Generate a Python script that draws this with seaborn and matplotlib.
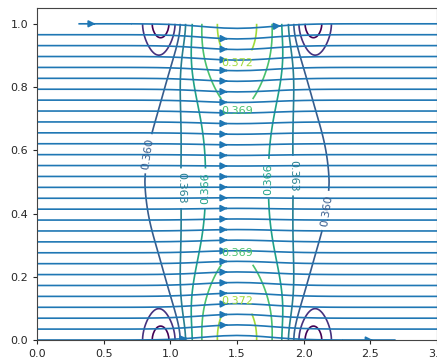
import numpy as np
import matplotlib
matplotlib.use("Agg")
import matplotlib.pyplot as plt
import seaborn as sns

# axes
x_range = [0.0, 3.0]
y_range = [0.0, 1.0]
y_top = 1.05
x_ticks = [0.0, 0.5, 1.0, 1.5, 2.0, 2.5, 3.0]
y_ticks = [0.0, 0.2, 0.4, 0.6, 0.8, 1.0]

# contour levels and the colour span they were coloured over
levels = [0.354, 0.357, 0.360, 0.363, 0.366, 0.369, 0.372]
level_span = [0.354, 0.375]

# scalar field, pieced together from what the picture shows
base_value = 0.3589
core = [1.5, 0.0087, 0.51, 0.08]     # centre x, amplitude, width, narrowing at walls
wall_bump = [0.0059, 0.48, 0.23]     # amplitude, x width, y width
dip_x = [0.95, 2.05]
dip = [0.0095, 0.15, 0.1]            # depth, x width, y reach
throat = [0.03, 0.35]                # speed-up of the flow at the centre

# where the inline labels sit
label_x = [0.82, 2.16, 1.09, 1.94, 1.26, 1.73, 1.5, 1.5, 1.5, 1.5]
label_y = [0.59, 0.41, 0.48, 0.52, 0.48, 0.51, 0.28, 0.72, 0.12, 0.88]

x = np.linspace(x_range[0], x_range[1], 301)
y = np.linspace(y_range[0], y_range[1], 101)
X, Y = np.meshgrid(x, y)

cx, amp, width, narrow = core
S = width - narrow * np.abs(2 * Y - 1) ** 1.5
P = base_value + amp * np.exp(-((X - cx) / S) ** 2)
b_amp, b_wx, b_wy = wall_bump
for wall in (0.0, 1.0):
    P += b_amp * np.exp(-((X - cx) / b_wx) ** 2 - ((Y - wall) / b_wy) ** 2)
d_amp, d_wx, d_wy = dip
for dx in dip_x:
    for wall in (0.0, 1.0):
        P -= (d_amp * np.exp(-((X - dx) / d_wx) ** 2)
              / (1 + ((Y - wall) / d_wy) ** 2))

g = np.exp(-((X - cx) / throat[1]) ** 2)
dg = -2 * (X - cx) / throat[1] ** 2 * g
U = 1 + throat[0] * g
V = -(Y - 0.5) * throat[0] * dg

sns.set_style("ticks")
plt.rcParams["font.family"] = ["DejaVu Sans"]

fig = plt.figure(figsize=(4.37, 3.61), dpi=100)
ax = fig.add_axes([37 / 437, 21 / 361, 400 / 437, 332 / 361])

cmap = sns.color_palette("viridis", as_cmap=True)
lo, hi = level_span
colors = [cmap((lv - lo) / (hi - lo)) for lv in levels]

cs = ax.contour(X, Y, P, levels=levels, colors=colors, linewidths=1.2)
ax.clabel(cs, fontsize=8, fmt="%.3f", inline=True,
          manual=list(zip(label_x, label_y)))

ax.streamplot(x, y, U, V, density=1, color="#1f77b4", linewidth=1.2,
              arrowsize=1.0)

ax.set_xlim(x_range)
ax.set_ylim(y_range[0], y_top)
ax.set_xticks(x_ticks)
ax.set_yticks(y_ticks)
ax.tick_params(labelsize=8, length=3)
for s in ax.spines.values():
    s.set_visible(True)
    s.set_color("#444444")

fig.savefig("out.png", dpi=100)
